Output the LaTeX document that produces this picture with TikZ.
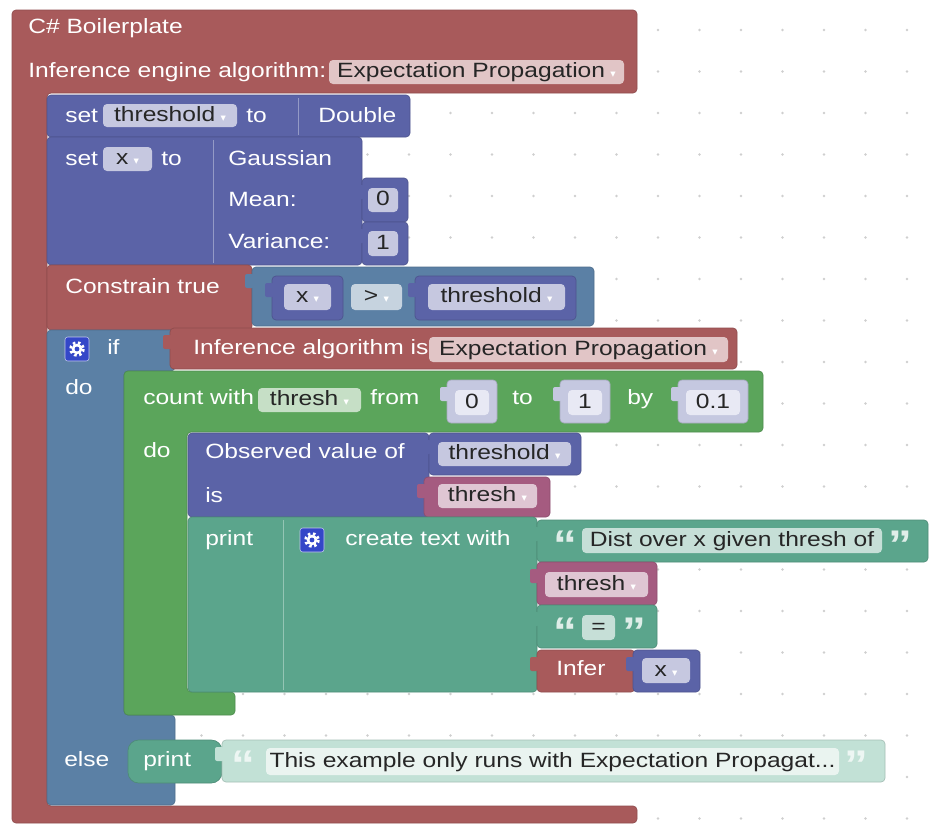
\documentclass[tikz,border=0pt]{standalone}
\usepackage{fontspec}
\setmainfont{Liberation Sans}[FakeStretch=1.19]
\newfontfamily\symf{DejaVu Sans}
\usetikzlibrary{positioning}

\definecolor{cRed}{HTML}{A85A5B}
\definecolor{cPur}{HTML}{5B63A7}
\definecolor{cBlu}{HTML}{5B80A5}
\definecolor{cGrn}{HTML}{5BA55B}
\definecolor{cTea}{HTML}{5BA58C}
\definecolor{cPnk}{HTML}{A55B80}
\definecolor{cNum}{HTML}{C5C8E0}
\definecolor{cNumL}{HTML}{E8E9F4}
\definecolor{cPale}{HTML}{C2E1D6}
\definecolor{cPaleL}{HTML}{EAF4F0}
\definecolor{cGear}{HTML}{3447C8}
\definecolor{cDot}{HTML}{CFCFCF}

\tikzset{
  blk/.style={fill=#1, draw=#1!85!black, line width=.5pt, rounded corners=3pt},
  fld/.style={fill=#1!35!white, rounded corners=3pt},
  lbl/.style={text=white, anchor=west, inner sep=0pt, text height=1.9ex, text depth=.3ex},
  ftxt/.style={text=black!85, inner sep=0pt, text height=1.9ex, text depth=.3ex},
  qt/.style={text=#1, anchor=north, inner sep=0pt, font=\fontsize{30}{30}\selectfont\bfseries},
  seam/.style={draw=#1!65!white, line width=.6pt}
}

% dropdown arrow
\newcommand\dd{\hspace{4pt}{\symf\fontsize{8}{8}\selectfont\color{white}▾}}
% value block with its tab
\newcommand\vb[5]{%
  \path[blk=#5] (#1,#2) rectangle (#3,#4);
  \fill[#5, rounded corners=1.5pt] (#1-7,#2+7) rectangle (#1+2,#2+21);
}
% field: name, x1, y1, x2, y2, colour, text
\newcommand\fl[7]{\path[fld=#6] (#2,#3) rectangle node[ftxt, midway] (#1) {#7} (#4,#5);}
% mutator gear
\newcommand\gear[2]{%
  \fill[cGear, draw=white!70!cGear, rounded corners=2pt] (#1,#2) rectangle ++(24,24);
  \draw[white, line width=2.2pt, dash pattern=on 1.9pt off 1.9pt] (#1+12,#2+12) circle (6.3);
  \fill[white] (#1+12,#2+12) circle (5.3);
  \fill[cGear] (#1+12,#2+12) circle (2.4);
}

\begin{document}
\begin{tikzpicture}[x=0.75pt, y=-0.75pt, font=\fontsize{15.5}{18}\selectfont]
\useasboundingbox (0,0) rectangle (947,825);
\fill[white] (0,0) rectangle (947,825);
% workspace grid
\foreach \i in {0,...,22}{
  \foreach \j in {0,...,19}{
    \fill[cDot] (35.5+41.5*\i,30+41.5*\j) circle (1.3);
  }
}

% C# boilerplate
\path[blk=cRed] (12,10) -- (637,10) -- (637,93) -- (47,93) -- (47,806) -- (637,806) -- (637,823) -- (12,823) -- cycle;
\node[lbl] (tCs) at (28,28) {C\# Boilerplate};
\node[lbl] (tEng) at (28,72) {Inference engine algorithm:};
\fl{fEng}{329}{60}{624}{84}{cRed}{Expectation Propagation\dd}

% set threshold / set x
\path[blk=cPur] (47,95) rectangle (410,137);
\draw[seam=cPur] (298,98) -- (298,135);
\node[lbl] (tSet1) at (65,117) {set};
\fl{fThr1}{103}{104}{237}{127}{cPur}{threshold\dd}
\node[lbl] (tTo1) at (246,117) {to};
\node[lbl] (tDbl) at (318,117) {Double};
\path[blk=cPur] (47,137) rectangle (362,265);
\draw[seam=cPur] (213,140) -- (213,263);
\node[lbl] (tSet2) at (65,160) {set};
\fl{fX1}{103}{147}{152}{171}{cPur}{x\dd}
\node[lbl] (tTo2) at (161,160) {to};
\node[lbl] (tGau) at (228,160) {Gaussian};
\node[lbl] (tMean) at (228,201) {Mean:};
\node[lbl] (tVar) at (228,243) {Variance:};
\vb{362}{178}{408}{222}{cPur}
\fl{fMean}{368}{188}{398}{212}{cPur}{0}
\vb{362}{222}{408}{265}{cPur}
\fl{fVar}{368}{231}{398}{256}{cPur}{1}

% constrain
\path[blk=cRed] (47,265) rectangle (252,330);
\node[lbl] (tCon) at (65,288) {Constrain true};
\vb{252}{267}{594}{326}{cBlu}
\vb{272}{276}{343}{320}{cPur}
\fl{fX2}{284}{284}{331}{310}{cPur}{x\dd}
\fl{fGt}{351}{284}{402}{310}{cBlu}{>\dd}
\vb{415}{276}{576}{320}{cPur}
\fl{fThr2}{428}{284}{565}{310}{cPur}{threshold\dd}

% if / else
\path[blk=cBlu] (47,330) -- (175,330) -- (175,371) -- (124,371) -- (124,715) -- (175,715) -- (175,805) -- (47,805) -- cycle;
\gear{65}{337}
\node[lbl] (tIf) at (107,349) {if};
\node[lbl] (tDo1) at (65,389) {do};
\node[lbl] (tElse) at (64,761) {else};
\vb{170}{328}{737}{369}{cRed}
\node[lbl] (tAlg) at (193,349) {Inference algorithm is};
\fl{fAlg}{429}{337}{728}{362}{cRed}{Expectation Propagation\dd}

% count with
\path[blk=cGrn] (124,371) -- (763,371) -- (763,432) -- (187,432) -- (187,692) -- (235,692) -- (235,715) -- (124,715) -- cycle;
\node[lbl] (tCnt) at (143,399) {count with};
\fl{fThs1}{258}{388}{361}{412}{cGrn}{thresh\dd}
\node[lbl] (tFrom) at (370,399) {from};
\vb{447}{380}{497}{423}{cNum}
\path[fill=cNumL, rounded corners=3pt] (455,390) rectangle node[ftxt, midway] (fFrom) {0} (489,415);
\node[lbl] (tTo3) at (512,399) {to};
\vb{560}{380}{610}{423}{cNum}
\path[fill=cNumL, rounded corners=3pt] (568,390) rectangle node[ftxt, midway] (fUpto) {1} (602,415);
\node[lbl] (tBy) at (627,399) {by};
\vb{678}{380}{748}{423}{cNum}
\path[fill=cNumL, rounded corners=3pt] (686,390) rectangle node[ftxt, midway] (fBy) {0.1} (740,415);
\node[lbl] (tDo2) at (143,452) {do};

% observed value
\path[blk=cPur] (188,433) rectangle (429,517);
\node[lbl] (tObs) at (205,453) {Observed value of};
\node[lbl] (tIs) at (205,497) {is};
\vb{429}{433}{581}{475}{cPur}
\fl{fThr3}{438}{442}{571}{466}{cPur}{threshold\dd}
\vb{424}{477}{550}{517}{cPnk}
\fl{fThs2}{438}{484}{537}{508}{cPnk}{thresh\dd}

% print / create text with
\path[blk=cTea] (188,517) rectangle (537,692);
\draw[seam=cTea] (283,520) -- (283,690);
\node[lbl] (tPr1) at (205,540) {print};
\gear{300}{528}
\node[lbl] (tCre) at (345,540) {create text with};
\vb{537}{520}{928}{562}{cTea}
\node[qt=white!80!cTea] (q1) at (565,531) {“};
\fl{fDist}{582}{528}{882}{553}{cTea}{Dist over x given thresh of}
\node[qt=white!80!cTea] (q2) at (900,531) {”};
\vb{537}{562}{657}{605}{cPnk}
\fl{fThs3}{545}{572}{648}{597}{cPnk}{thresh\dd}
\vb{537}{605}{657}{648}{cTea}
\node[qt=white!80!cTea] (q3) at (565,618) {“};
\fl{fEq}{582}{615}{615}{640}{cTea}{=}
\node[qt=white!80!cTea] (q4) at (634,618) {”};
\vb{537}{650}{635}{692}{cRed}
\node[lbl] (tInf) at (556,670) {Infer};
\vb{633}{650}{700}{692}{cPur}
\fl{fX3}{642}{658}{690}{683}{cPur}{x\dd}

% else branch
\path[blk=cTea, rounded corners=8pt] (128,740) rectangle (222,783);
\node[lbl] (tPr2) at (143,761) {print};
\vb{222}{740}{885}{782}{cPale}
\node[qt=white!70!cPale] (q5) at (243,751) {“};
\path[fill=cPaleL, rounded corners=3pt] (266,748) rectangle node[ftxt, midway] (fMsg) {This example only runs with Expectation Propagat...} (839,775);
\node[qt=white!70!cPale] (q6) at (856,751) {”};
\end{tikzpicture}
\end{document}
